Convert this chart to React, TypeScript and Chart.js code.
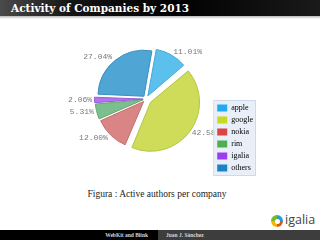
import React, { useEffect, useRef } from "react";
import { Chart, registerables } from "chart.js";

Chart.register(...registerables);

const companies = ["apple", "google", "nokia", "rim", "igalia", "others"];
const shares = [11.01, 42.58, 12.0, 5.31, 2.06, 27.04];
const sliceColors = ["#5cc0ec", "#cedc5a", "#d98585", "#7bbf8c", "#b274f0", "#4fa5d3"];
const sliceBorders = ["#45a9d6", "#b5c444", "#c36d6d", "#64a876", "#9a5cd8", "#3a8ebe"];
const legendColors = ["#22a9f0", "#c6da1e", "#da4545", "#4caf50", "#9a3ef3", "#1b82c4"];
// Chart.js translates an arc by offset / 4 pixels
const sliceOffsets = [14, 22, 14, 12, 12, 14];

const legendBgPlugin = {
  id: "legendBg",
  beforeDraw(chart: any) {
    const lg = chart.legend;
    if (!lg || !lg.legendHitBoxes || !lg.legendHitBoxes.length) return;
    const boxes = lg.legendHitBoxes;
    let l = Infinity, t = Infinity, r = -Infinity, b = -Infinity;
    boxes.forEach((h: any) => {
      l = Math.min(l, h.left);
      t = Math.min(t, h.top);
      r = Math.max(r, h.left + h.width);
      b = Math.max(b, h.top + h.height);
    });
    const ctx = chart.ctx;
    ctx.save();
    ctx.fillStyle = "#e8eff9";
    ctx.strokeStyle = "#cddae9";
    ctx.lineWidth = 1;
    ctx.fillRect(l - 3, t - 3, r - l + 5, b - t + 6);
    ctx.strokeRect(l - 3.5, t - 3.5, r - l + 6, b - t + 7);
    ctx.restore();
  },
};

// drawn before the legend so the legend box covers any overlapping label
const pieLabelPlugin = {
  id: "pieLabels",
  beforeDraw(chart: any) {
    const meta = chart.getDatasetMeta(0);
    const ctx = chart.ctx;
    ctx.save();
    ctx.font = "8px 'Liberation Mono', monospace";
    ctx.fillStyle = "#7a7a7a";
    ctx.textBaseline = "middle";
    meta.data.forEach((arc: any, i: number) => {
      const p = arc.getProps(["x", "y", "startAngle", "endAngle", "outerRadius"], true);
      const off = (arc.options.offset || 0) / 4;
      const mid = (p.startAngle + p.endAngle) / 2;
      const d = p.outerRadius + off + 5;
      const px = p.x + Math.cos(mid) * d;
      const py = p.y + Math.sin(mid) * d;
      ctx.textAlign = Math.cos(mid) >= 0 ? "left" : "right";
      ctx.fillText(shares[i].toFixed(2) + "%", px, py);
    });
    ctx.restore();
  },
};

function PieChart() {
  const ref = useRef<HTMLCanvasElement | null>(null);
  useEffect(() => {
    if (!ref.current) return;
    const chart = new Chart(ref.current, {
      type: "pie",
      data: {
        labels: companies,
        datasets: [
          {
            data: shares,
            backgroundColor: sliceColors,
            borderColor: sliceBorders,
            borderWidth: 1,
            offset: sliceOffsets,
            radius: 46,
          } as any,
        ],
      },
      options: {
        responsive: false,
        animation: false,
        devicePixelRatio: 1,
        rotation: 10,
        layout: { padding: { left: 79, right: 0, top: 0, bottom: 0 } },
        plugins: {
          tooltip: { enabled: false },
          legend: {
            position: "right",
            align: "end",
            labels: {
              boxWidth: 10,
              boxHeight: 7,
              padding: 4,
              color: "#444",
              font: { family: "'Liberation Serif', serif", size: 8 },
              generateLabels: () =>
                companies.map((c, i) => ({
                  text: c,
                  fillStyle: legendColors[i],
                  strokeStyle: legendColors[i],
                  lineWidth: 0,
                  hidden: false,
                  index: i,
                })),
            },
          },
        },
      } as any,
      plugins: [pieLabelPlugin, legendBgPlugin],
    });
    return () => chart.destroy();
  }, []);
  return (
    <canvas
      ref={ref}
      width={263}
      height={154}
      style={{ position: "absolute", left: 0, top: 22, width: 263, height: 154 }}
    />
  );
}

export default function App() {
  return (
    <div
      style={{
        position: "fixed",
        left: 0,
        top: 0,
        width: 320,
        height: 240,
        background: "#fff",
        overflow: "hidden",
        fontFamily: "'Liberation Serif', serif",
      }}
    >
      <div
        style={{
          position: "absolute",
          left: 0,
          top: 0,
          width: 320,
          height: 16,
          background: "linear-gradient(to right, #4a4a4a 0%, #151515 22%, #000 55%, #1a1a1a 100%)",
        }}
      />
      <div
        style={{
          position: "absolute",
          left: 0,
          top: 16,
          width: 320,
          height: 3,
          background: "linear-gradient(to bottom, #b8b8b8, #ffffff)",
        }}
      />
      <div
        style={{
          position: "absolute",
          left: 11,
          top: 0,
          height: 16,
          lineHeight: "16px",
          color: "#fff",
          fontWeight: "bold",
          fontSize: 10.5,
          fontFamily: "'DejaVu Serif', serif",
          whiteSpace: "nowrap",
        }}
      >
        Activity of Companies by 2013
      </div>
      <PieChart />
      <div
        style={{
          position: "absolute",
          left: 0,
          width: 314,
          top: 189,
          textAlign: "center",
          fontSize: 9.5,
          color: "#222",
          whiteSpace: "nowrap",
        }}
      >
        Figura : Active authors per company
      </div>
      <div
        style={{
          position: "absolute",
          left: 271,
          top: 215,
          width: 12,
          height: 12,
          borderRadius: "50%",
          background:
            "conic-gradient(#1ea0dc 0 25%, #e5531d 25% 50%, #f2b705 50% 75%, #79b82e 75% 100%)",
        }}
      />
      <div
        style={{
          position: "absolute",
          left: 274.5,
          top: 218.5,
          width: 5,
          height: 5,
          borderRadius: "50%",
          background: "#fff",
        }}
      />
      <div
        style={{
          position: "absolute",
          left: 285,
          top: 212,
          fontFamily: "'Open Sans', sans-serif",
          fontSize: 12.5,
          lineHeight: "16px",
          color: "#444",
        }}
      >
        igalia
      </div>
      <div style={{ position: "absolute", left: 0, top: 230, width: 158, height: 10, background: "#000" }} />
      <div style={{ position: "absolute", left: 158, top: 230, width: 162, height: 10, background: "#3d3d3d" }} />
      <div
        style={{
          position: "absolute",
          left: 0,
          width: 148,
          top: 230,
          height: 10,
          lineHeight: "10px",
          textAlign: "right",
          fontSize: 5.5,
          fontWeight: "bold",
          color: "#d4d4d4",
          whiteSpace: "nowrap",
        }}
      >
        WebKit and Blink
      </div>
      <div
        style={{
          position: "absolute",
          left: 166,
          top: 230,
          height: 10,
          lineHeight: "10px",
          fontSize: 5.5,
          fontWeight: "bold",
          color: "#d4d4d4",
          whiteSpace: "nowrap",
        }}
      >
        Juan J. Sánchez
      </div>
    </div>
  );
}
